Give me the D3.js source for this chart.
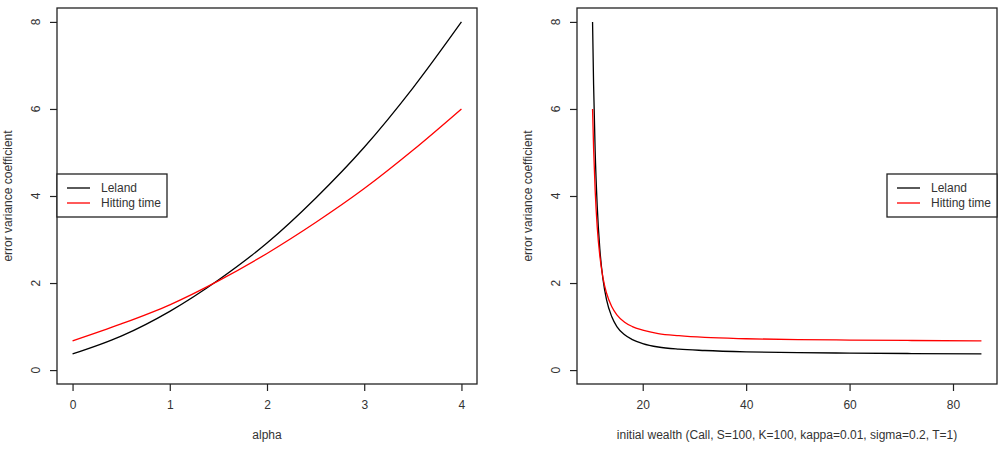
<!DOCTYPE html>
<html>
<head>
<meta charset="utf-8">
<script src="https://cdn.jsdelivr.net/npm/d3@7"></script>
<style>
  body { margin: 0; background: #fff; }
  text { font-family: "Liberation Sans", Arial, sans-serif; fill: #333; }
</style>
</head>
<body>
<script>
// left panel: coefficient vs alpha
var alpha = [0, 0.5, 1, 1.5, 2, 2.5, 3, 3.5, 4];
var lelandAlpha = [0.37, 0.78, 1.35, 2.07, 2.92, 3.95, 5.12, 6.48, 8.00];
var hittingAlpha = [0.67, 1.06, 1.50, 2.05, 2.68, 3.39, 4.17, 5.05, 6.00];

// right panel: coefficient vs initial wealth
var wealth = [10.3, 10.5, 10.8, 11.2, 11.7, 12.3, 13, 14, 15, 16.5, 18, 20, 23, 27, 32, 40, 50, 60, 72, 85.5];
var lelandWealth = [8.00, 6.56, 5.05, 3.77, 2.79, 2.10, 1.62, 1.23, 1.00, 0.81, 0.70, 0.61, 0.53, 0.48, 0.45, 0.42, 0.40, 0.39, 0.38, 0.37];
var hittingWealth = [6.00, 5.10, 4.14, 3.29, 2.63, 2.13, 1.77, 1.46, 1.27, 1.10, 1.00, 0.92, 0.84, 0.79, 0.75, 0.72, 0.70, 0.69, 0.68, 0.67];

var yTicks = [0, 2, 4, 6, 8];
var alphaTicks = [0, 1, 2, 3, 4];
var wealthTicks = [20, 40, 60, 80];
var seriesNames = ["Leland", "Hitting time"];
var seriesColors = ["#000000", "#ff0000"];

var w = 1003, h = 451;
var svg = d3.select("body").append("svg").attr("width", w).attr("height", h);

// R style: 4% padding on each side of the data range
function padded(lo, hi) {
  var r = hi - lo;
  return [lo - r * 0.04, hi + r * 0.04];
}

function drawPanel(p) {
  var x = d3.scaleLinear().domain(padded(d3.min(p.xs), d3.max(p.xs))).range([p.left, p.right]);
  var y = d3.scaleLinear().domain(padded(0, 8)).range([p.bottom, p.top]);

  var g = svg.append("g");

  var line = d3.line().curve(d3.curveMonotoneX)
    .x(function (d) { return x(d[0]); })
    .y(function (d) { return y(d[1]); });

  [p.s1, p.s2].forEach(function (s, i) {
    g.append("path")
      .datum(p.xs.map(function (v, j) { return [v, s[j]]; }))
      .attr("fill", "none")
      .attr("stroke", seriesColors[i])
      .attr("stroke-width", 1.3)
      .attr("d", line);
  });

  // x axis
  var xa = g.append("g")
    .attr("transform", "translate(0," + p.bottom + ")")
    .call(d3.axisBottom(x).tickValues(p.xticks).tickFormat(d3.format("d")).tickSize(7).tickPadding(9));
  xa.select(".domain").remove();
  xa.selectAll("line").attr("stroke", "#222").attr("stroke-width", 1.2);
  xa.selectAll("text").attr("font-size", 12).attr("fill", "#333")
    .attr("font-family", "Liberation Sans, Arial, sans-serif");

  // y axis, labels rotated like base R
  var ya = g.append("g")
    .attr("transform", "translate(" + p.left + ",0)")
    .call(d3.axisLeft(y).tickValues(yTicks).tickSize(7).tickFormat(""));
  ya.select(".domain").remove();
  ya.selectAll("line").attr("stroke", "#222").attr("stroke-width", 1.2);
  yTicks.forEach(function (t) {
    g.append("text")
      .attr("transform", "translate(" + (p.left - 21) + "," + y(t) + ") rotate(-90)")
      .attr("dy", "0.35em")
      .attr("text-anchor", "middle")
      .attr("font-size", 12)
      .text(t);
  });

  // box
  g.append("rect")
    .attr("x", p.left).attr("y", p.top)
    .attr("width", p.right - p.left).attr("height", p.bottom - p.top)
    .attr("fill", "none").attr("stroke", "#222").attr("stroke-width", 1.3);

  // titles
  g.append("text")
    .attr("x", (p.left + p.right) / 2).attr("y", 439)
    .attr("text-anchor", "middle").attr("font-size", 12)
    .text(p.xlab);
  g.append("text")
    .attr("transform", "translate(" + (p.left - 49) + "," + (p.top + p.bottom) / 2 + ") rotate(-90)")
    .attr("dy", "0.35em")
    .attr("text-anchor", "middle").attr("font-size", 12)
    .text("error variance coefficient");

  // legend
  var lw = 110, lh = 43;
  var lx = p.legendRight ? p.right - lw : p.left;
  var ly = 174;
  var lg = g.append("g").attr("transform", "translate(" + lx + "," + ly + ")");
  lg.append("rect").attr("width", lw).attr("height", lh)
    .attr("fill", "#fff").attr("stroke", "#222").attr("stroke-width", 1.3);
  seriesNames.forEach(function (n, i) {
    lg.append("line")
      .attr("x1", 10).attr("x2", 33)
      .attr("y1", 14 + i * 15).attr("y2", 14 + i * 15)
      .attr("stroke", seriesColors[i]).attr("stroke-width", 1.3);
    lg.append("text")
      .attr("x", 44).attr("y", 14 + i * 15).attr("dy", "0.35em")
      .attr("font-size", 12)
      .text(n);
  });
}

drawPanel({
  left: 57, right: 477, top: 8, bottom: 384,
  xs: alpha, s1: lelandAlpha, s2: hittingAlpha,
  xticks: alphaTicks, xlab: "alpha", legendRight: false
});

drawPanel({
  left: 577, right: 997, top: 8, bottom: 384,
  xs: wealth, s1: lelandWealth, s2: hittingWealth,
  xticks: wealthTicks, xlab: "initial wealth (Call, S=100, K=100, kappa=0.01, sigma=0.2, T=1)", legendRight: true
});
</script>
</body>
</html>
